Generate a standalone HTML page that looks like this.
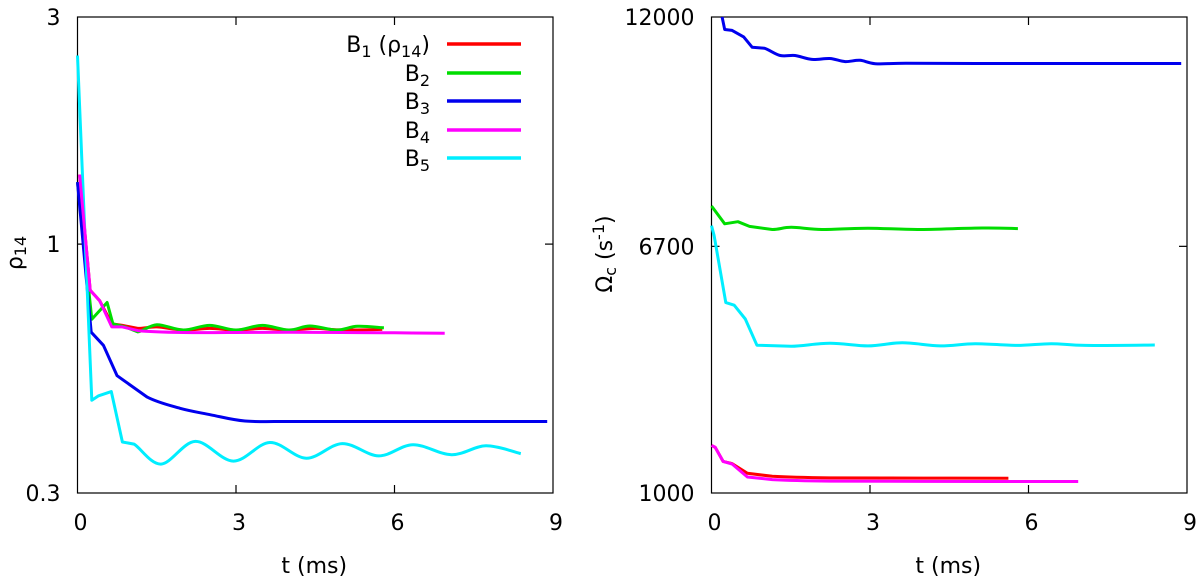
<!DOCTYPE html>
<html><head><meta charset="utf-8">
<style>
html,body{margin:0;padding:0;background:#fff;}
svg{display:block;font-family:"DejaVu Sans","Liberation Sans",sans-serif;}
</style></head>
<body>
<svg id="chart" width="1200" height="582" viewBox="0 0 1200 582" xmlns="http://www.w3.org/2000/svg"></svg>
<script>
// ---- data ----
const xTicks = [0, 3, 6, 9];
const leftYTicks = [0.3, 1, 3];
const rightYTicks = [1000, 6700, 12000];
const seriesNames = ["B1", "B2", "B3", "B4", "B5"];
const seriesColors = ["#ff0000", "#00dd00", "#0000ee", "#ff00ff", "#00eeff"];

const rhoB1 = [[0.04,1.40],[0.24,0.80],[0.42,0.76],[0.65,0.68],[0.85,0.675],[1.14,0.665],[1.5,0.67],[2.0,0.66],[2.5,0.665],[3.0,0.66],[3.5,0.665],[4.0,0.66],[4.5,0.665],[5.0,0.66],[5.77,0.662]];
const rhoB2 = [[0.0,1.35],[0.27,0.695],[0.56,0.754],[0.67,0.68],[0.9,0.67],[1.14,0.654],[1.5,0.677],[2.0,0.66],[2.5,0.675],[3.0,0.66],[3.5,0.675],[4.0,0.66],[4.4,0.673],[4.9,0.66],[5.3,0.672],[5.8,0.667]];
const rhoB3 = [[0.0,1.35],[0.26,0.653],[0.49,0.613],[0.75,0.529],[1.32,0.477],[1.94,0.452],[2.52,0.438],[3.17,0.425],[4.0,0.424],[5.0,0.424],[6.0,0.424],[7.0,0.424],[8.89,0.424]];
const rhoB4 = [[0.04,1.40],[0.24,0.80],[0.42,0.76],[0.65,0.67],[0.85,0.67],[1.14,0.658],[2.0,0.652],[3.0,0.652],[4.0,0.653],[5.0,0.652],[6.0,0.651],[6.95,0.65]];
const rhoB5 = [[0.0,2.49],[0.27,0.47],[0.40,0.48],[0.64,0.49],[0.85,0.384],[1.07,0.38],[1.58,0.345],[2.23,0.385],[2.95,0.35],[3.64,0.383],[4.33,0.355],[5.01,0.381],[5.7,0.359],[6.35,0.379],[7.08,0.361],[7.73,0.377],[8.39,0.363]];

const omB1 = [[0.0,2100],[0.07,2055],[0.22,1730],[0.39,1680],[0.68,1455],[1.15,1385],[2.24,1350],[4.0,1345],[5.62,1343]];
const omB2 = [[0.0,7633],[0.25,7220],[0.5,7270],[0.72,7160],[1.15,7090],[1.51,7140],[2.09,7090],[2.96,7120],[3.9,7090],[5.13,7125],[5.8,7110]];
const omB3 = [[0.2,12000],[0.25,11710],[0.39,11690],[0.61,11540],[0.77,11300],[1.0,11280],[1.3,11110],[1.58,11110],[1.9,11020],[2.24,11040],[2.53,10970],[2.81,11000],[3.1,10920],[3.68,10930],[5.0,10925],[7.0,10925],[8.89,10925]];
const omB4 = [[0.0,2100],[0.07,2055],[0.22,1730],[0.39,1670],[0.68,1370],[1.15,1310],[2.24,1275],[4.0,1268],[6.94,1265]];
const omB5 = [[0.0,7180],[0.05,6950],[0.27,5400],[0.43,5340],[0.64,5020],[0.86,4415],[1.51,4390],[2.24,4460],[2.96,4400],[3.61,4470],[4.33,4400],[4.99,4450],[5.78,4410],[6.43,4450],[7.08,4410],[8.39,4420]];

const NS = "http://www.w3.org/2000/svg";
const svg = document.getElementById('chart');
function mk(tag, attrs, parent){ const e=document.createElementNS(NS,tag); for(const k in attrs) e.setAttribute(k,attrs[k]); (parent||svg).appendChild(e); return e; }

const L = {x0:77.5, x1:553, y0:493, y1:17};
const R = {x0:711.5, x1:1187, y0:493, y1:17};
const lx = t => L.x0 + (t/9)*(L.x1-L.x0);
const ly = v => L.y0 - Math.log10(v/0.3)*(L.y0-L.y1);
const rx = t => R.x0 + (t/9)*(R.x1-R.x0);
const ry = v => R.y0 - (v-1000)/11000*(R.y0-R.y1);

function drawFrame(P, name, yTicks, yFn, xFn){
  const g = mk('g',{});
  
  
  const fr = mk('rect',{x:P.x0,y:P.y1,width:P.x1-P.x0,height:P.y0-P.y1,fill:'none',stroke:'#000','stroke-width':1.2},g);
  
  
  xTicks.forEach(t=>{
    const x = xFn(t);
    if(t>0 && t<9){
      mk('line',{x1:x,y1:P.y0,x2:x,y2:P.y0-8,stroke:'#000','stroke-width':1.2},g);
      mk('line',{x1:x,y1:P.y1,x2:x,y2:P.y1+8,stroke:'#000','stroke-width':1.2},g);
    }
    const tx = mk('text',{x:x+3,y:530,'font-size':22,'text-anchor':'middle',fill:'#000'},g);
    tx.textContent = t;
    
    
  });
  yTicks.forEach((v,i)=>{
    const y = yFn(v);
    if(i>0 && i<yTicks.length-1){
      mk('line',{x1:P.x0,y1:y,x2:P.x0+8,y2:y,stroke:'#000','stroke-width':1.2},g);
      mk('line',{x1:P.x1,y1:y,x2:P.x1-8,y2:y,stroke:'#000','stroke-width':1.2},g);
    }
    const tx = mk('text',{x:P.x0-17,y:y+8,'font-size':22,'text-anchor':'end',fill:'#000'},g);
    tx.textContent = String(v);
    
    
  });
  const xl = mk('text',{x:(P.x0+P.x1)/2-1,y:573,'font-size':22,'text-anchor':'middle',fill:'#000'},g);
  xl.textContent='t (ms)';
  
  
}
drawFrame(L,'left-panel',leftYTicks,ly,lx);
drawFrame(R,'right-panel',rightYTicks,ry,rx);

const yl = mk('text',{x:0,y:0,'font-size':22,'text-anchor':'middle',fill:'#000',transform:'translate(22,253) rotate(-90)'});
yl.innerHTML = 'ρ<tspan font-size="16" dy="4">14</tspan>';


const yr = mk('text',{x:0,y:0,'font-size':22,'text-anchor':'middle',fill:'#000',transform:'translate(612,254) rotate(-90)'});
yr.innerHTML = 'Ω<tspan font-size="16" dy="4">c</tspan><tspan dy="-4"> (s</tspan><tspan font-size="16" dy="-8">-1</tspan><tspan dy="8">)</tspan>';



function drawLine(data, xFn, yFn, color, name){
  const P = data.map(p=>[xFn(p[0]), yFn(p[1]), p[0]]);
  let d = 'M'+P[0][0].toFixed(1)+','+P[0][1].toFixed(1);
  for(let i=0;i<P.length-1;i++){
    const a=P[i], b=P[i+1];
    if(a[2]>=1.0 && b[2]>=1.0){
      const p0=P[Math.max(i-1,0)], p3=P[Math.min(i+2,P.length-1)];
      const c1x=a[0]+(b[0]-p0[0])/6, c1y=a[1]+(b[1]-p0[1])/6;
      const c2x=b[0]-(p3[0]-a[0])/6, c2y=b[1]-(p3[1]-a[1])/6;
      d += ' C'+c1x.toFixed(1)+','+c1y.toFixed(1)+' '+c2x.toFixed(1)+','+c2y.toFixed(1)+' '+b[0].toFixed(1)+','+b[1].toFixed(1);
    } else {
      d += ' L'+b[0].toFixed(1)+','+b[1].toFixed(1);
    }
  }
  const p = mk('path',{d:d,fill:'none',stroke:color,'stroke-width':3,'stroke-linejoin':'round'});
  
  
}
const leftSeries = [rhoB1, rhoB2, rhoB3, rhoB5, rhoB4];
const leftIdx = [0,1,2,4,3];
leftSeries.forEach((s,k)=>drawLine(s,lx,ly,seriesColors[leftIdx[k]],'left-line-'+seriesNames[leftIdx[k]].toLowerCase()));
const rightSeries = [omB3, omB2, omB5, omB1, omB4];
const rightIdx = [2,1,4,0,3];
rightSeries.forEach((s,k)=>drawLine(s,rx,ry,seriesColors[rightIdx[k]],'right-line-'+seriesNames[rightIdx[k]].toLowerCase()));

const legY = [44,73,101,130,158];
seriesNames.forEach((n,i)=>{
  const g = mk('g',{});
  
  
  const t = mk('text',{x:430,y:legY[i]+8,'font-size':22,'text-anchor':'end',fill:'#000'},g);
  let html = 'B<tspan font-size="16" dy="5">'+n.slice(1)+'</tspan>';
  if(i===0) html += '<tspan dy="-5"> (ρ</tspan><tspan font-size="16" dy="5">14</tspan><tspan dy="-5">)</tspan>';
  t.innerHTML = html;
  mk('line',{x1:447,y1:legY[i],x2:521,y2:legY[i],stroke:seriesColors[i],'stroke-width':3.5},g);
});
</script>
</body></html>
